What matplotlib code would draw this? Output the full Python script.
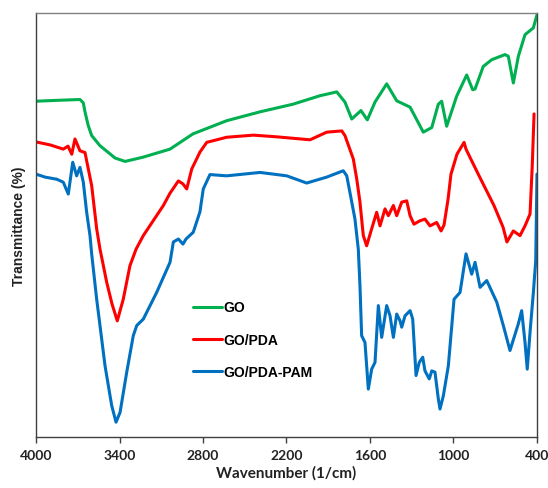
import matplotlib
matplotlib.use("Agg")
import matplotlib.pyplot as plt

# FTIR spectra, transmittance in arbitrary units (0-100 scale of the plot)
go_wn = [4000, 3856, 3684, 3660, 3648, 3625, 3600, 3540, 3480, 3432, 3360, 3231,
         3037, 2872, 2630, 2390, 2153, 1959, 1839, 1780, 1731, 1665, 1619, 1564,
         1480, 1408, 1312, 1241, 1217, 1156, 1109, 1085, 1049, 977, 905, 862, 845,
         786, 725, 630, 606, 570, 534, 486, 426, 400]
go_t = [79.2, 79.4, 79.6, 78.8, 76.7, 73.5, 71.1, 68.7, 67.1, 65.8, 65.0, 66.0,
        67.9, 71.5, 74.6, 76.7, 78.5, 80.5, 81.4, 79.0, 75.0, 77.0, 74.8, 79.0,
        83.3, 79.3, 77.8, 73.4, 71.9, 73.0, 78.5, 79.2, 73.3, 80.4, 85.4, 81.9, 82.1,
        87.4, 89.0, 90.2, 89.8, 83.5, 89.8, 94.9, 96.5, 99.6]

pda_wn = [4000, 3899, 3804, 3770, 3743, 3720, 3684, 3648, 3624, 3600, 3564, 3540,
          3492, 3454, 3416, 3373, 3325, 3281, 3229, 3085, 3037, 2977, 2944, 2917,
          2881, 2822, 2773, 2630, 2438, 2270, 2031, 1911, 1803, 1780, 1720, 1695,
          1672, 1648, 1624, 1588, 1552, 1528, 1492, 1468, 1432, 1408, 1372, 1336,
          1312, 1284, 1241, 1205, 1169, 1121, 1089, 1068, 1039, 1018, 975, 924,
          910, 876, 804, 709, 644, 616, 570, 522, 486, 450, 434, 421]
pda_t = [69.6, 68.9, 67.9, 68.6, 66.7, 70.3, 67.5, 67.1, 63.2, 59.3, 49.1, 44.3,
         36.5, 31.4, 27.4, 32.5, 40.4, 44.3, 47.5, 54.6, 57.5, 60.4, 59.7, 58.5,
         63.2, 67.2, 69.5, 70.7, 71.2, 70.8, 70.1, 71.9, 72.2, 71.1, 65.6, 60.8,
         55.4, 47.5, 45.1, 49.1, 53.0, 49.8, 53.8, 52.2, 54.6, 52.2, 55.4, 55.7,
         52.2, 50.2, 51.0, 51.4, 49.8, 50.6, 48.6, 50.0, 56.1, 62.0, 66.7, 69.5,
         67.9, 65.6, 60.8, 54.6, 49.5, 46.0, 48.6, 47.5, 49.8, 52.6, 64.0, 76.2]

pam_wn = [4000, 3935, 3851, 3804, 3768, 3736, 3708, 3684, 3660, 3636, 3612, 3600,
          3564, 3504, 3456, 3425, 3396, 3348, 3301, 3276, 3229, 3133, 3037, 3013,
          2977, 2944, 2922, 2870, 2822, 2798, 2750, 2630, 2390, 2198, 2055, 1911,
          1792, 1767, 1731, 1708, 1684, 1672, 1660, 1636, 1612, 1588, 1564, 1540,
          1516, 1480, 1456, 1432, 1408, 1384, 1372, 1348, 1312, 1293, 1269, 1246,
          1221, 1205, 1174, 1156, 1133, 1109, 1097, 1073, 1037, 996, 953, 910, 869,
          845, 809, 761, 689, 642, 594, 534, 510, 486, 470, 450, 426, 409, 400]
pam_t = [62.0, 61.3, 60.8, 60.1, 57.3, 64.8, 61.6, 63.6, 60.1, 53.0, 47.5, 43.2,
         32.5, 16.8, 7.4, 3.5, 5.8, 15.3, 23.9, 26.3, 27.8, 34.1, 41.2, 46.0,
         46.7, 45.5, 46.7, 48.3, 53.1, 58.5, 61.9, 61.6, 62.4, 61.6, 59.9, 61.3,
         62.8, 61.6, 55.4, 51.4, 44.3, 35.7, 23.9, 22.3, 11.3, 16.0, 17.6, 31.0,
         23.5, 31.0, 28.6, 23.5, 29.0, 27.4, 25.9, 28.6, 29.8, 27.8, 14.5, 17.6,
         18.8, 15.6, 13.7, 15.6, 15.3, 9.0, 6.6, 9.7, 16.8, 32.5, 34.1, 43.2, 38.4,
         41.2, 35.3, 36.9, 31.8, 26.3, 20.4, 26.7, 29.8, 22.3, 16.0, 24.7, 34.1, 41.6, 62.0]

x_ticks = [4000, 3400, 2800, 2200, 1600, 1000, 400]

fig = plt.figure(figsize=(5.48, 4.89), dpi=100)
ax = fig.add_axes([0.0657, 0.1043, 0.9142, 0.867])

line_kw = dict(lw=2.2, solid_joinstyle="round", solid_capstyle="round")
ax.plot(go_wn, go_t, color="#00B050", label="GO", **line_kw)
ax.plot(pda_wn, pda_t, color="#FF0000", label="GO/PDA", **line_kw)
ax.plot(pam_wn, pam_t, color="#0070C0", label="GO/PDA-PAM", **line_kw)

ax.set_xlim(4000, 400)
ax.set_ylim(0, 100)
ax.set_xticks(x_ticks)
ax.set_xticklabels([str(t) for t in x_ticks], fontsize=10, fontweight="bold",
                   family="Lato", color="#222222")
ax.set_yticks([])
ax.tick_params(axis="x", direction="out", length=4.5, width=1, color="#404040", pad=4)

for s in ax.spines.values():
    s.set_color("#404040")
    s.set_linewidth(1)
ax.spines["top"].set_color("#808080")

ax.set_xlabel("Wavenumber (1/cm)", fontsize=11, fontweight="bold", family="Lato",
              color="#222222", labelpad=3)
ax.set_ylabel("Transmittance (%)", fontsize=10, fontweight="bold",
              family="Liberation Sans", color="#222222", labelpad=7)

leg = ax.legend(loc="upper left", bbox_to_anchor=(0.313, 0.322), frameon=False,
                handlelength=2.1, handletextpad=0.1, labelspacing=1.3,
                borderpad=0, borderaxespad=0,
                prop={"family": "Liberation Sans", "weight": "bold", "size": 10})

fig.savefig("out.png", dpi=100, facecolor="white")
